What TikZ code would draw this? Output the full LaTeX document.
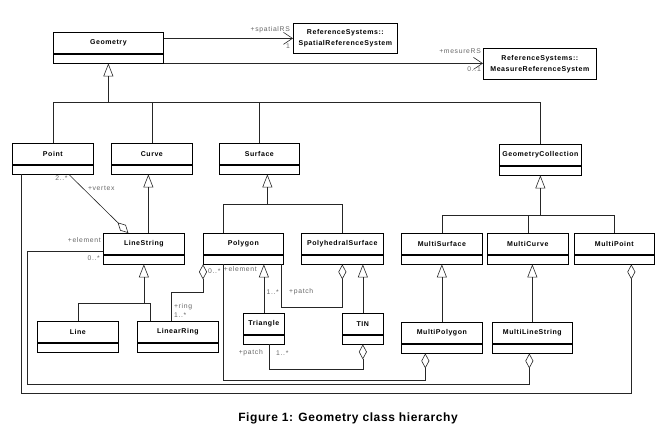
\documentclass[tikz,border=0pt]{standalone}
\usepackage{fontspec}
\setmainfont{Liberation Sans}
\newfontfamily\classfont[LetterSpace=8]{Liberation Sans}
\newfontfamily\rolefont[LetterSpace=10]{Liberation Sans}
\newfontfamily\captionfont[LetterSpace=5]{Liberation Sans}
\usepackage{tikz}
\usetikzlibrary{arrows.meta,positioning,calc}

\tikzset{
  classname/.style={draw, line width=0.7pt, anchor=north west, minimum height=21pt, inner sep=1pt,
    font=\classfont\bfseries\fontsize{7}{8}\selectfont},
  classbody/.style={draw, line width=0.7pt, minimum height=9pt, inner sep=0pt},
  refbox/.style={draw, line width=0.7pt, anchor=north west, align=center, inner sep=1pt,
    font=\classfont\bfseries\fontsize{7}{11}\selectfont},
  link/.style={draw=black!85, line width=0.6pt},
  gen/.style={link, -{Triangle[open, length=13pt, width=10pt]}},
  aggr/.style={link, -{Diamond[open, length=15pt, width=8pt]}},
  assoc/.style={link, -{Straight Barb[length=9pt, width=12pt]}},
  role/.style={text=black!60, inner sep=1pt, font=\rolefont\fontsize{6.8}{9}\selectfont}
}

\begin{document}
\begin{tikzpicture}[x=1pt,y=-1pt]
            \useasboundingbox (0,0) rectangle (670,426);

            % Define the classes
            \node[classname, minimum width=110] (geometry) at (53,32) {Geometry};
            \node[classbody, minimum width=110, below=0pt of geometry] (geometryb) {};
            \node[refbox, minimum width=104, minimum height=30] (spatialrs) at (293,23) {ReferenceSystems::\\SpatialReferenceSystem};
            \node[refbox, minimum width=113, minimum height=31] (measurers) at (483,48) {ReferenceSystems::\\MeasureReferenceSystem};

            \node[classname, minimum width=81] (point) at (12,143) {Point};
            \node[classbody, minimum width=81, below=0pt of point] (pointb) {};
            \node[classname, minimum width=81] (curve) at (111,143) {Curve};
            \node[classbody, minimum width=81, below=0pt of curve] (curveb) {};
            \node[classname, minimum width=80] (surface) at (219,143) {Surface};
            \node[classbody, minimum width=80, below=0pt of surface] (surfaceb) {};
            \node[classname, minimum width=82] (geomcoll) at (499,144) {GeometryCollection};
            \node[classbody, minimum width=82, below=0pt of geomcoll] (geomcollb) {};

            \node[classname, minimum width=81] (linestring) at (103,233) {LineString};
            \node[classbody, minimum width=81, below=0pt of linestring] (linestringb) {};
            \node[classname, minimum width=80] (polygon) at (203,233) {Polygon};
            \node[classbody, minimum width=80, below=0pt of polygon] (polygonb) {};
            \node[classname, minimum width=82] (polyhedral) at (301,233) {PolyhedralSurface};
            \node[classbody, minimum width=82, below=0pt of polyhedral] (polyhedralb) {};
            \node[classname, minimum width=81] (msurface) at (401,233) {MultiSurface};
            \node[classbody, minimum width=81, below=0pt of msurface] (msurfaceb) {};
            \node[classname, minimum width=81] (mcurve) at (487,233) {MultiCurve};
            \node[classbody, minimum width=81, below=0pt of mcurve] (mcurveb) {};
            \node[classname, minimum width=80] (mpoint) at (574,233) {MultiPoint};
            \node[classbody, minimum width=80, below=0pt of mpoint] (mpointb) {};

            \node[classname, minimum width=81] (line) at (37,321) {Line};
            \node[classbody, minimum width=81, below=0pt of line] (lineb) {};
            \node[classname, minimum width=81] (linearring) at (137,321) {LinearRing};
            \node[classbody, minimum width=81, below=0pt of linearring] (linearringb) {};
            \node[classname, minimum width=41] (triangle) at (243,313) {Triangle};
            \node[classbody, minimum width=41, below=0pt of triangle] (triangleb) {};
            \node[classname, minimum width=41] (tin) at (342,313) {TIN};
            \node[classbody, minimum width=41, below=0pt of tin] (tinb) {};
            \node[classname, minimum width=81] (mpolygon) at (401,322) {MultiPolygon};
            \node[classbody, minimum width=81, below=0pt of mpolygon] (mpolygonb) {};
            \node[classname, minimum width=80] (mlinestring) at (492,322) {MultiLineString};
            \node[classbody, minimum width=80, below=0pt of mlinestring] (mlinestringb) {};

            % Reference system associations
            \draw[assoc] (spatialrs.west -| geometry.east) -- (spatialrs.west);
            \draw[assoc] (geometryb.south east) -- (geometryb.south east -| measurers.west);
            \node[role, anchor=east] (lspatial) at ($(spatialrs.west)+(-2,-9)$) {+spatialRS};
            \node[role, anchor=east] (lspatialm) at ($(spatialrs.west)+(-2,8)$) {1};
            \node[role, anchor=east] (lmeasure) at ($(measurers.west)+(-1,-12.5)$) {+mesureRS};
            \node[role, anchor=east] (lmeasurem) at ($(measurers.west)+(-1,5)$) {0..1};

            % Subtypes of Geometry
            \coordinate (gbus) at (0,102);
            \draw[link] (point.north) |- (gbus -| geomcoll.north) -- (geomcoll.north);
            \draw[link] (curve.north) -- (curve.north |- gbus);
            \draw[link] (surface.north) -- (surface.north |- gbus);
            \draw[gen] (geometryb.south |- gbus) -- (geometryb.south);

            % Subtypes of Curve and LineString
            \coordinate (curvegen) at ($(curveb.south)+(-3.5,0)$);
            \draw[gen] (linestring.north -| curvegen) -- (curvegen);
            \coordinate (lbus) at (0,303);
            \coordinate (ringtop) at ($(linearring.north)+(-27.5,0)$);
            \draw[link] (line.north) |- (lbus -| ringtop) -- (ringtop);
            \draw[gen] (linestringb.south |- lbus) -- (linestringb.south);

            % Subtypes of Surface
            \coordinate (sbus) at (0,204);
            \coordinate (surfgen) at ($(surfaceb.south)+(8,0)$);
            \draw[link] ($(polygon.north)+(-20,0)$) |- (sbus -| polyhedral.north) -- (polyhedral.north);
            \draw[gen] (surfgen |- sbus) -- (surfgen);
            \draw[gen] (triangle.north) -- (triangle.north |- polygonb.south);
            \draw[gen] (tin.north) -- (tin.north |- polyhedralb.south);

            % Subtypes of GeometryCollection
            \coordinate (cbus) at (0,215);
            \draw[link] (msurface.north) |- (cbus -| mpoint.north) -- (mpoint.north);
            \draw[link] (mcurve.north) -- (mcurve.north |- cbus);
            \draw[gen] (geomcollb.south |- cbus) -- (geomcollb.south);
            \draw[gen] (mpolygon.north) -- (msurfaceb.south);
            \draw[gen] (mlinestring.north) -- (mlinestring.north |- mcurveb.south);

            % Aggregations
            \draw[aggr] ($(pointb.south)+(16,0)$) -- ($(linestring.north)+(-15.5,0)$)
              node[role, pos=0, below left] (lvertexm) {2..*}
              node[role, pos=0.3, above right] (lvertex) {+vertex};
            \draw[aggr] ($(linearring.north)+(-6.5,0)$) -- ++(0,-29) -| (polygonb.south west);
            \node[role, anchor=south west, align=left] (lring) at ($(linearring.north)+(-5,-2)$) {+ring\\1..*};
            \node[role, anchor=west] (lringm) at ($(polygonb.south west)+(4,7)$) {0..*};
            \draw[aggr] ($(polygonb.south east)+(-2,0)$) -- ++(0,43) -| (polyhedralb.south);
            \node[role, anchor=east] (lpatchm) at (280,292) {1..*};
            \node[role, anchor=west] (lpatch) at (288,292) {+patch};
            \draw[aggr] ($(triangleb.south)+(5.5,0)$) -- ++(0,25) -| (tinb.south);
            \node[role, anchor=east] (ltinpatch) at (264,353) {+patch};
            \node[role, anchor=west] (ltinpatchm) at (275,353) {1..*};
            \draw[aggr] ($(polygonb.south)+(-20,0)$) -- ++(0,116) -| ($(mpolygonb.south)+(-16.5,0)$);
            \node[role, anchor=east] (lpolyelem) at (258,269) {+element};
            \draw[aggr] ($(linestring.west)+(0,7)$) -| ++(-76,133) -| ($(mlinestringb.south)+(-3,0)$);
            \node[role, anchor=east] (llselem) at (102,240) {+element};
            \node[role, anchor=east] (llselemm) at (101,258) {0..*};
            \draw[aggr] ($(pointb.south west)+(9,0)$) -- ++(0,219) -| ($(mpointb.south)+(17,0)$);

            % Caption
            \node[font=\captionfont\bfseries\fontsize{12}{14}\selectfont] (caption) at (348,418) {Figure 1: Geometry class hierarchy};

        \end{tikzpicture}
\end{document}
